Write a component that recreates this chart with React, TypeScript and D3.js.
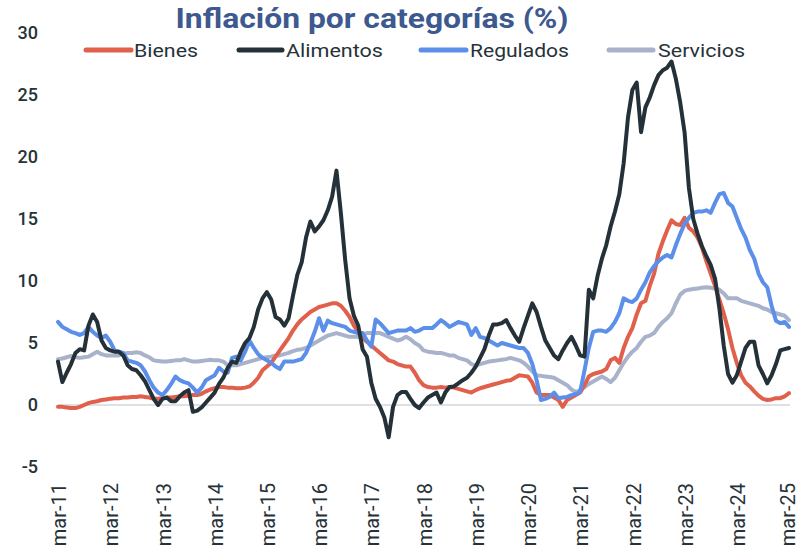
import React from "react";
import * as d3 from "d3";

const xTickLabels = ["mar-11","mar-12","mar-13","mar-14","mar-15","mar-16","mar-17","mar-18","mar-19","mar-20","mar-21","mar-22","mar-23","mar-24","mar-25"];
const yTicks = [-5, 0, 5, 10, 15, 20, 25, 30];

const bienes = [
-0.15,-0.15,-0.2,-0.25,-0.25,-0.15,0.0,0.15,0.25,0.3,0.4,0.45,
0.5,0.55,0.55,0.6,0.6,0.65,0.65,0.7,0.65,0.6,0.5,0.5,
0.55,0.6,0.6,0.65,0.7,0.7,0.75,0.8,0.8,0.9,1.1,1.25,
1.35,1.45,1.45,1.4,1.4,1.35,1.35,1.4,1.5,1.8,2.2,2.8,
3.1,3.4,3.9,4.4,4.9,5.4,6.0,6.5,6.9,7.2,7.5,7.7,
7.9,8.0,8.1,8.2,8.2,8.0,7.6,7.1,6.4,5.9,5.4,5.1,
4.8,4.5,4.2,3.9,3.6,3.5,3.3,3.2,3.1,3.1,2.6,2.0,
1.6,1.45,1.4,1.4,1.45,1.4,1.45,1.4,1.3,1.2,1.1,1.0,
1.2,1.35,1.45,1.55,1.65,1.75,1.85,1.95,2.0,2.2,2.4,2.35,
2.3,1.8,1.0,0.8,0.8,0.8,0.6,0.4,-0.15,0.4,0.6,0.8,
1.0,1.6,2.3,2.5,2.6,2.7,2.9,3.6,3.8,3.4,4.6,5.5,
6.2,7.3,8.2,8.4,9.6,10.6,12.2,13.2,14.1,14.9,14.6,14.5,
15.1,14.3,14.0,13.5,12.7,11.6,10.6,9.6,8.5,7.4,6.1,4.6,
3.4,2.4,1.8,1.5,1.1,0.75,0.5,0.4,0.45,0.55,0.55,0.7,
0.95];

const alimentos = [
3.5,1.85,2.6,3.3,4.2,4.5,4.4,6.4,7.3,6.7,5.2,4.6,
4.4,4.3,4.3,4.0,3.2,2.9,2.8,2.4,1.9,1.2,0.5,0.0,
0.5,0.6,0.3,0.3,0.7,1.0,1.2,-0.55,-0.45,-0.2,0.2,0.6,
1.0,1.7,2.2,3.0,3.5,3.4,4.3,5.0,5.4,6.3,7.7,8.6,
9.1,8.5,7.1,6.9,6.4,7.0,8.8,10.5,11.5,13.5,14.8,14.0,
14.4,14.9,15.7,16.8,18.9,15.5,11.7,8.6,7.2,6.4,4.5,3.9,
1.8,0.5,-0.15,-1.0,-2.6,-0.15,0.8,1.05,1.05,0.5,0.0,-0.25,
0.2,0.6,0.8,1.0,0.2,1.0,1.45,1.5,1.75,2.0,2.2,2.6,
3.1,3.8,4.5,5.6,6.5,6.5,6.6,6.85,6.2,5.6,5.1,6.2,
7.2,8.2,7.5,6.3,5.2,4.6,4.0,3.7,4.4,5.0,5.5,4.8,
4.0,3.9,9.3,8.6,10.4,11.8,12.9,14.4,15.6,17.0,19.5,23.2,
25.4,26.0,22.0,24.0,24.8,25.8,26.6,27.0,27.2,27.7,26.3,24.4,
22.0,17.5,15.0,13.8,12.8,12.0,11.3,10.2,7.8,4.8,2.5,1.8,
2.4,3.5,4.6,5.1,5.1,3.2,2.5,1.75,2.4,3.3,4.4,4.5,
4.6];

const regulados = [
6.7,6.3,6.1,5.9,5.8,5.65,5.8,6.3,5.9,5.6,5.4,5.6,
5.1,4.4,4.3,4.2,3.6,3.5,3.4,3.2,2.7,2.0,1.4,1.0,
0.8,1.2,1.7,2.3,2.0,1.85,1.75,1.4,1.0,1.4,2.0,2.2,
2.4,3.0,2.7,2.6,3.8,3.9,3.6,4.3,5.2,4.6,4.1,3.8,
3.6,3.4,3.1,2.9,3.5,3.5,3.5,3.6,3.7,4.2,5.0,5.9,
7.0,6.0,6.8,6.6,6.5,6.4,6.3,6.0,5.9,5.8,5.8,5.2,
4.7,6.9,6.6,6.2,5.8,5.9,6.0,6.0,6.0,6.2,5.9,6.0,
6.2,6.2,6.2,6.5,6.85,6.6,6.3,6.5,6.7,6.6,6.5,5.65,
6.2,5.5,5.4,5.2,5.0,4.8,5.0,4.9,4.8,4.7,4.6,4.6,
4.2,3.3,2.0,0.4,0.5,0.65,1.0,0.55,0.6,0.65,0.8,0.9,
1.05,2.8,4.6,5.9,6.0,6.0,5.9,6.2,6.7,7.4,8.6,8.4,
8.3,8.6,9.3,9.9,10.7,11.2,11.6,11.9,12.1,11.9,12.9,13.8,
14.6,15.1,15.5,15.6,15.6,15.7,15.5,16.3,17.0,17.1,16.3,16.0,
15.1,14.2,13.5,12.5,11.8,10.6,9.9,9.5,8.0,6.8,6.6,6.7,
6.3];

const servicios = [
3.7,3.75,3.85,3.95,3.85,3.8,3.85,3.9,4.1,4.3,4.1,4.0,
4.0,4.0,4.0,4.1,4.2,4.2,4.25,4.2,4.0,3.85,3.6,3.55,
3.5,3.5,3.55,3.6,3.6,3.7,3.6,3.5,3.5,3.55,3.6,3.65,
3.6,3.6,3.5,3.2,3.2,3.2,3.3,3.4,3.5,3.6,3.7,3.8,
3.85,3.9,4.0,4.0,4.1,4.2,4.35,4.45,4.5,4.6,4.8,5.0,
5.2,5.4,5.6,5.7,5.8,5.7,5.6,5.5,5.5,5.5,5.6,5.8,
5.8,5.8,5.8,5.65,5.5,5.35,5.2,5.3,5.5,5.3,5.0,4.8,
4.4,4.3,4.25,4.2,4.2,4.1,4.0,4.0,3.8,3.7,3.6,3.3,
3.2,3.3,3.4,3.5,3.55,3.6,3.65,3.7,3.8,3.7,3.6,3.4,
3.1,2.7,2.4,2.35,2.3,2.25,2.2,2.0,1.8,1.6,1.25,1.05,
1.2,1.45,1.7,1.9,2.1,2.3,2.1,1.85,2.2,2.8,3.4,3.9,
4.3,4.6,5.1,5.5,5.6,5.8,6.3,6.7,7.0,7.4,8.2,8.9,
9.2,9.3,9.35,9.4,9.45,9.5,9.45,9.4,9.3,9.0,8.6,8.6,
8.6,8.4,8.3,8.2,8.1,8.0,7.8,7.7,7.5,7.4,7.3,7.2,
6.85];

const seriesNames = ["Bienes", "Alimentos", "Regulados", "Servicios"];
const seriesColors = ["#E0604B", "#253139", "#5B8FEA", "#A9B2CB"];
const seriesData = [bienes, alimentos, regulados, servicios];
const drawOrder = [3, 0, 2, 1];

const W = 797;
const H = 552;

export default function App() {
  const x = d3.scaleLinear().domain([0, 168]).range([58, 789]);
  const y = d3.scaleLinear().domain([-5, 30]).range([467, 33]);
  const line = d3
    .line<number>()
    .x((_, i) => x(i))
    .y((d) => y(d));

  const legendX = [86, 239, 421, 609];
  const legendW = [45, 43, 45, 44];
  const legendTextX = [134, 286, 470, 658];
  const legendTextW = [64, 97, 99, 87];
  const fontFamily = "Roboto, 'Noto Sans', sans-serif";

  return (
    <div style={{ position: "fixed", left: 0, top: 0, width: W, height: H, background: "#fff" }}>
      <svg width={W} height={H} style={{ display: "block" }} fontFamily={fontFamily}>
        <rect width={W} height={H} fill="#fff" />
        <text
          x={372}
          y={28}
          textAnchor="middle"
          fontSize={28}
          fontWeight={700}
          fill="#3E5890"
          textLength={393}
          lengthAdjust="spacingAndGlyphs"
        >
          Inflación por categorías (%)
        </text>
        {seriesNames.map((name, k) => (
          <g key={name}>
            <line
              x1={legendX[k]}
              x2={legendX[k] + legendW[k]}
              y1={50}
              y2={50}
              stroke={seriesColors[k]}
              strokeWidth={5}
              strokeLinecap="round"
            />
            <text
              x={legendTextX[k]}
              y={56.5}
              fontSize={18.5}
              fill="#263238"
              textLength={legendTextW[k]}
              lengthAdjust="spacingAndGlyphs"
            >
              {name}
            </text>
          </g>
        ))}
        {yTicks.map((t) => (
          <text key={t} x={38} y={y(t)} dy="0.36em" textAnchor="end" fontSize={18} fontWeight={500} fill="#263238">
            {t}
          </text>
        ))}
        <line x1={58} x2={790} y1={y(0)} y2={y(0)} stroke="#DDE1E6" strokeWidth={2} />
        {drawOrder.map((k) => (
          <path
            key={seriesNames[k]}
            d={line(seriesData[k]) || ""}
            fill="none"
            stroke={seriesColors[k]}
            strokeWidth={4}
            strokeLinejoin="round"
            strokeLinecap="round"
          />
        ))}
        {xTickLabels.map((lab, i) => {
          const tx = Math.min(x(i * 12) + 1, 788);
          return (
            <text
              key={lab}
              transform={`translate(${tx},483) rotate(-90)`}
              textAnchor="end"
              dy="0.36em"
              fontSize={20}
              fill="#263238"
            >
              {lab}
            </text>
          );
        })}
      </svg>
    </div>
  );
}
